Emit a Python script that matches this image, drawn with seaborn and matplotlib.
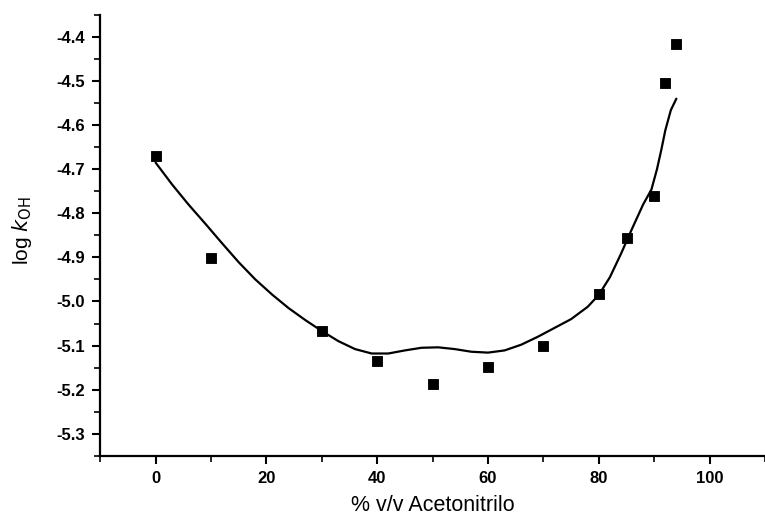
import matplotlib
matplotlib.use("Agg")
import matplotlib.pyplot as plt
import pandas as pd
import seaborn as sns
from matplotlib.ticker import MultipleLocator, FormatStrFormatter

# measured points
acetonitrile = [0, 10, 30, 40, 50, 60, 70, 80, 85, 90, 92, 94]
log_koh = [-4.670, -4.901, -5.067, -5.134, -5.188, -5.149, -5.100, -4.982, -4.856, -4.761, -4.505, -4.415]

# fitted curve
curve_x = [0, 3, 6, 9, 12, 15, 18, 21, 24, 27, 30, 33, 36, 39, 42, 45, 48, 51, 54, 57, 60, 63, 66,
           69, 72, 75, 78, 80, 82, 84, 86, 88, 89.5, 90.5, 91.3, 92, 93, 94]
curve_y = [-4.685, -4.735, -4.781, -4.824, -4.868, -4.911, -4.950, -4.984, -5.015, -5.042, -5.067,
           -5.090, -5.108, -5.118, -5.118, -5.111, -5.105, -5.104, -5.108, -5.114, -5.116, -5.111,
           -5.098, -5.080, -5.060, -5.040, -5.012, -4.985, -4.945, -4.892, -4.835, -4.780, -4.746,
           -4.700, -4.655, -4.612, -4.566, -4.540]

sns.set_style("ticks")
plt.rcParams["font.family"] = ["Liberation Sans", "DejaVu Sans"]
plt.rcParams["axes.unicode_minus"] = False
plt.rcParams["text.color"] = "black"
plt.rcParams["axes.labelcolor"] = "black"
plt.rcParams["xtick.color"] = "black"
plt.rcParams["ytick.color"] = "black"
plt.rcParams["axes.edgecolor"] = "black"

points = pd.DataFrame({"x": acetonitrile, "y": log_koh})
curve = pd.DataFrame({"x": curve_x, "y": curve_y})

fig = plt.figure(figsize=(7.65, 5.15), dpi=100)
ax = fig.add_axes([0.131, 0.115, 0.869, 0.856])

sns.lineplot(data=curve, x="x", y="y", ax=ax, color="black", linewidth=1.6, sort=False)
sns.scatterplot(data=points, x="x", y="y", ax=ax, color="black", marker="s", s=62, edgecolor="black")

ax.set_xlim(-10, 110)
ax.set_ylim(-5.35, -4.35)
ax.xaxis.set_major_locator(MultipleLocator(20))
ax.xaxis.set_minor_locator(MultipleLocator(10))
ax.yaxis.set_major_locator(MultipleLocator(0.1))
ax.yaxis.set_minor_locator(MultipleLocator(0.05))
ax.yaxis.set_major_formatter(FormatStrFormatter("%.1f"))

sns.despine(ax=ax)
for side in ["left", "bottom"]:
    ax.spines[side].set_linewidth(1.6)
ax.tick_params(which="major", length=6, width=1.5, labelsize=12, pad=5)
ax.tick_params(which="minor", length=4, width=1.2)
for lab in ax.get_xticklabels() + ax.get_yticklabels():
    lab.set_fontweight("bold")

ax.set_xlabel("% v/v Acetonitrilo", fontsize=15.5)
ax.set_ylabel(r"log $k_{\mathrm{OH}}$", fontsize=15)
ax.xaxis.set_label_coords(0.5, -0.09)
ax.yaxis.set_label_coords(-0.1, 0.51)

fig.savefig("out.png", dpi=100)
